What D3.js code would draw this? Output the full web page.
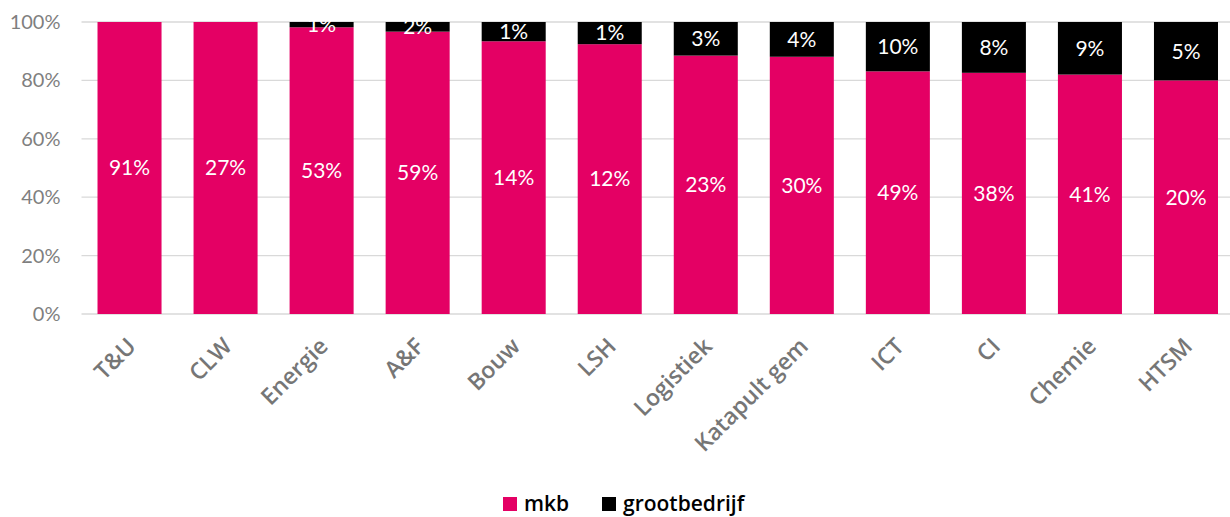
<!DOCTYPE html>
<html>
<head>
<meta charset="utf-8">
<script src="https://cdn.jsdelivr.net/npm/d3@7"></script>
<style>
  body { margin: 0; background: #fff; }
  svg { display: block; }
</style>
</head>
<body>
<div id="chart"></div>
<script>
// categories and values
let categories = ["T&U", "CLW", "Energie", "A&F", "Bouw", "LSH", "Logistiek", "Katapult gem", "ICT", "CI", "Chemie", "HTSM"];
let mkbShare = [100, 100, 98.2, 96.7, 93.4, 92.4, 88.5, 88.1, 83.1, 82.6, 82.0, 80.0];
let grootShare = [0, 0, 1.8, 3.3, 6.6, 7.6, 11.5, 11.9, 16.9, 17.4, 18.0, 20.0];
// data labels as printed on the bars
let mkbLabels = [91, 27, 53, 59, 14, 12, 23, 30, 49, 38, 41, 20];
let grootLabels = [null, null, 1, 2, 1, 1, 3, 4, 10, 8, 9, 5];
let yTicks = [0, 20, 40, 60, 80, 100];

let seriesNames = ["mkb", "grootbedrijf"];
let colors = ["#E40064", "#000000"];

let width = 1230, height = 517;
let margin = {top: 22, right: -4, bottom: 203, left: 81.5};
let plotW = width - margin.left - margin.right,
    plotH = height - margin.top - margin.bottom;

let rows = categories.map(function(c, i) {
    return {cat: c, mkb: mkbShare[i], grootbedrijf: grootShare[i], lab0: mkbLabels[i], lab1: grootLabels[i]};
});

let x = d3.scaleBand().domain(categories).range([0, plotW]).paddingInner(1/3).paddingOuter(1/6);
let y = d3.scaleLinear().domain([0, 100]).range([plotH, 0]);

let svg = d3.select("#chart").append("svg")
    .attr("width", width)
    .attr("height", height);

let g = svg.append("g")
    .attr("transform", "translate(" + margin.left + "," + margin.top + ")");

// gridlines
g.selectAll(".grid")
    .data(yTicks)
    .enter()
    .append("line")
    .attr("x1", 0)
    .attr("x2", width - margin.left)
    .attr("y1", function(d) { return y(d); })
    .attr("y2", function(d) { return y(d); })
    .attr("stroke", "#d9d9d9")
    .attr("stroke-width", 1.3);

// y axis labels
let yAxis = d3.axisLeft(y).tickValues(yTicks).tickFormat(function(d) { return d + "%"; }).tickSize(0).tickPadding(21);
let yg = g.append("g").call(yAxis);
yg.select(".domain").remove();
yg.selectAll("text")
    .attr("font-family", "Lato, 'Open Sans', sans-serif")
    .attr("font-size", "20px")
    .attr("fill", "#7f7f7f");

// stacked bars
let stack = d3.stack().keys(seriesNames);
let layers = stack(rows);

let layer = g.selectAll(".layer")
    .data(layers)
    .enter()
    .append("g")
    .attr("class", "layer")
    .attr("fill", function(d, i) { return colors[i]; });

layer.selectAll("rect")
    .data(function(d) { return d; })
    .enter()
    .append("rect")
    .attr("x", function(d) { return x(d.data.cat); })
    .attr("y", function(d) { return y(d[1]); })
    .attr("width", x.bandwidth())
    .attr("height", function(d) { return y(d[0]) - y(d[1]); });

// data labels
layers.forEach(function(ly, k) {
    g.append("g").selectAll("text")
        .data(ly.filter(function(d) { return (k == 0 ? d.data.lab0 : d.data.lab1) != null; }))
        .enter()
        .append("text")
        .attr("x", function(d) { return x(d.data.cat) + x.bandwidth() / 2; })
        .attr("y", function(d) { return (y(d[0]) + y(d[1])) / 2; })
        .attr("dy", "0.35em")
        .attr("text-anchor", "middle")
        .attr("font-family", "Lato, 'Open Sans', sans-serif")
        .attr("font-size", "21px")
        .attr("fill", "#fff")
        .text(function(d) { return (k == 0 ? d.data.lab0 : d.data.lab1) + "%"; });
});

// category labels, rotated
let xg = g.append("g").attr("transform", "translate(0," + plotH + ")");
xg.selectAll("text")
    .data(categories)
    .enter()
    .append("text")
    .attr("transform", function(d) { return "translate(" + (x(d) + x.bandwidth() / 2 - 4) + ",22) rotate(-45)"; })
    .attr("dy", "0.72em")
    .attr("text-anchor", "end")
    .attr("font-family", "'Open Sans', sans-serif")
    .attr("font-weight", 600)
    .attr("font-size", "23px")
    .attr("fill", "#767676")
    .text(function(d) { return d; });

// legend
let legend = svg.append("g").attr("transform", "translate(503,497)");
let legendX = [0, 99];
seriesNames.forEach(function(s, i) {
    let item = legend.append("g").attr("transform", "translate(" + legendX[i] + ",0)");
    item.append("rect")
        .attr("width", 14)
        .attr("height", 14)
        .attr("fill", colors[i]);
    item.append("text")
        .attr("x", 21)
        .attr("y", 14)
        .attr("font-family", "'Open Sans', sans-serif")
        .attr("font-weight", 600)
        .attr("font-size", "21px")
        .attr("fill", "#000")
        .text(s);
});
</script>
</body>
</html>
